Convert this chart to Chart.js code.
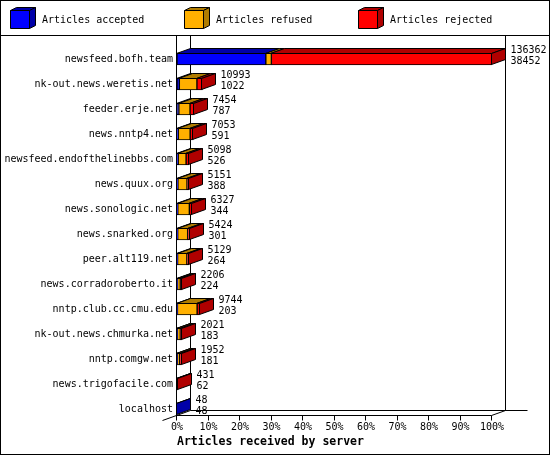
<!DOCTYPE html>
<html>
<head>
<meta charset="utf-8">
<script src="https://cdn.jsdelivr.net/npm/chart.js@4/dist/chart.umd.min.js"></script>
<style>
  html, body { margin: 0; padding: 0; background: #fff; }
  #wrap { position: relative; width: 550px; height: 455px; }
</style>
</head>
<body>
<div id="wrap"><canvas id="myChart"></canvas></div>
<script>
// servers, in the order they are listed
const servers = [
	"newsfeed.bofh.team",
	"nk-out.news.weretis.net",
	"feeder.erje.net",
	"news.nntp4.net",
	"newsfeed.endofthelinebbs.com",
	"news.quux.org",
	"news.sonologic.net",
	"news.snarked.org",
	"peer.alt119.net",
	"news.corradoroberto.it",
	"nntp.club.cc.cmu.edu",
	"nk-out.news.chmurka.net",
	"nntp.comgw.net",
	"news.trigofacile.com",
	"localhost",
];
// articles offered (upper number) and accepted (lower number)
const offered = [136362, 10993, 7454, 7053, 5098, 5151, 6327, 5424, 5129, 2206, 9744, 2021, 1952, 431, 48];
const accepted = [38452, 1022, 787, 591, 526, 388, 344, 301, 264, 224, 203, 183, 181, 62, 48];
const refused = [2400, 7600, 4850, 5100, 3400, 3940, 5000, 4300, 4000, 1200, 8500, 1250, 1000, 0, 0];
const rejected = offered.map((t, i) => t - accepted[i] - refused[i]);

const xTicks = [0, 10, 20, 30, 40, 50, 60, 70, 80, 90, 100];

const maxOffered = Math.max(...offered);
const pct = (arr) => arr.map((v) => (v / maxOffered) * 100);

const DX = 14;
const DY = -5;
const MONO = "'DejaVu Sans Mono', 'Liberation Mono', monospace";

Chart.defaults.font.family = MONO;
Chart.defaults.font.size = 10;
Chart.defaults.color = "#000";

const series = [
	{ label: "Articles accepted", values: accepted, color: "#0000ff", dark: "#0000a8" },
	{ label: "Articles refused", values: refused, color: "#ffb000", dark: "#b07c00" },
	{ label: "Articles rejected", values: rejected, color: "#ff0000", dark: "#b00000" },
];

function poly(ctx, pts, fill) {
	ctx.beginPath();
	ctx.moveTo(pts[0][0], pts[0][1]);
	for (let k = 1; k < pts.length; k++) ctx.lineTo(pts[k][0], pts[k][1]);
	ctx.closePath();
	ctx.fillStyle = fill;
	ctx.fill();
	ctx.stroke();
}

const frame = {
	id: "frame",
	beforeDatasetsDraw(chart) {
		const ctx = chart.ctx;
		const xs = chart.scales.x;
		const x0 = Math.round(xs.getPixelForValue(0)) - 0.5;
		const x1 = Math.round(xs.getPixelForValue(100)) - 0.5;
		const floor = 415.5;
		ctx.save();
		ctx.strokeStyle = "#000";
		ctx.lineWidth = 1;
		ctx.beginPath();
		// front left axis
		ctx.moveTo(x0, 36); ctx.lineTo(x0, floor);
		// back wall
		ctx.moveTo(x0 + DX, 36); ctx.lineTo(x0 + DX, floor + DY);
		ctx.moveTo(x1 + DX, 36); ctx.lineTo(x1 + DX, floor + DY);
		ctx.moveTo(x0 + DX, floor + DY); ctx.lineTo(x1 + DX + 22, floor + DY);
		// front floor
		ctx.moveTo(x0, floor); ctx.lineTo(x1, floor);
		ctx.moveTo(x0 - DX, floor - DY); ctx.lineTo(x0 + DX, floor + DY);
		ctx.moveTo(x1, floor); ctx.lineTo(x1 + DX, floor + DY);
		xTicks.forEach((t) => {
			const px = Math.round(xs.getPixelForValue(t)) - 0.5;
			ctx.moveTo(px, floor); ctx.lineTo(px, floor + 5);
		});
		ctx.stroke();
		ctx.restore();
	},
	afterDatasetsDraw(chart) {
		const ctx = chart.ctx;
		ctx.save();
		ctx.strokeStyle = "#000";
		ctx.lineWidth = 1;
		servers.forEach((s, i) => {
			let end = null, endDark = null, top = 0, bottom = 0, cy = 0;
			chart.data.datasets.forEach((ds, d) => {
				const el = chart.getDatasetMeta(d).data[i];
				const p = el.getProps(["x", "base", "y", "height"], true);
				top = Math.round(p.y - p.height / 2) + 0.5;
				bottom = Math.round(p.y + p.height / 2) - 0.5;
				cy = p.y;
				const a = Math.round(p.base) - 0.5;
				const b = Math.round(p.x) - 0.5;
				if (ds.data[i] > 0) {
					poly(ctx, [[a, top], [b, top], [b + DX, top + DY], [a + DX, top + DY]], series[d].dark);
					end = b;
					endDark = series[d].dark;
				}
			});
			if (end !== null) {
				poly(ctx, [[end, top], [end + DX, top + DY], [end + DX, bottom + DY], [end, bottom]], endDark);
			}
			ctx.fillStyle = "#000";
			ctx.font = "10px " + MONO;
			ctx.textBaseline = "middle";
			ctx.textAlign = "left";
			ctx.fillText(String(offered[i]), end + DX + 5, cy - 9);
			ctx.fillText(String(accepted[i]), end + DX + 5, cy + 2);
		});
		ctx.restore();
	},
	afterDraw(chart) {
		const ctx = chart.ctx;
		ctx.save();
		ctx.strokeStyle = "#000";
		ctx.lineWidth = 1;
		ctx.strokeRect(0.5, 0.5, 549, 454);
		ctx.beginPath();
		ctx.moveTo(0, 35.5); ctx.lineTo(550, 35.5);
		ctx.stroke();
		// legend with little cubes
		const lx = [10, 184, 358];
		series.forEach((s, k) => {
			const x = lx[k] + 0.5, y = 10.5, w = 19, h = 18;
			poly(ctx, [[x, y], [x + w, y], [x + w + 6, y - 3], [x + 6, y - 3]], s.dark);
			poly(ctx, [[x + w, y], [x + w + 6, y - 3], [x + w + 6, y + h - 3], [x + w, y + h]], s.dark);
			poly(ctx, [[x, y], [x + w, y], [x + w, y + h], [x, y + h]], s.color);
			ctx.fillStyle = "#000";
			ctx.font = "10px " + MONO;
			ctx.textBaseline = "middle";
			ctx.fillText(s.label, lx[k] + 32, 20);
		});
		ctx.restore();
	},
};

const myChart = new Chart(document.getElementById("myChart"), {
	type: "bar",
	data: {
		labels: servers,
		datasets: series.map((s) => ({
			label: s.label,
			data: pct(s.values),
			backgroundColor: s.color,
			borderColor: "#000",
			borderWidth: 1,
			borderSkipped: false,
			barThickness: 12,
		})),
	},
	options: {
		indexAxis: "y",
		responsive: true,
		maintainAspectRatio: false,
		animation: false,
		layout: { padding: { top: 46.5, right: 58, left: 0, bottom: 0 } },
		plugins: { legend: { display: false }, tooltip: { enabled: false } },
		scales: {
			x: {
				stacked: true,
				min: 0,
				max: 100,
				afterBuildTicks: (scale) => { scale.ticks = xTicks.map((v) => ({ value: v })); },
				ticks: { padding: 0, callback: (v) => v + "%", maxRotation: 0 },
				grid: { display: false, drawTicks: false },
				border: { display: false },
				title: {
					display: true,
					text: "Articles received by server",
					align: "start",
					font: { size: 11.5, weight: "bold" },
					padding: { top: 0, bottom: 6 },
				},
				afterFit: (scale) => { scale.height = 33.5; },
			},
			y: {
				stacked: true,
				ticks: { padding: 4, autoSkip: false },
				grid: { display: false, drawTicks: false },
				border: { display: false },
				afterFit: (scale) => { scale.width = 177; },
			},
		},
	},
	plugins: [frame],
});
</script>
</body>
</html>
